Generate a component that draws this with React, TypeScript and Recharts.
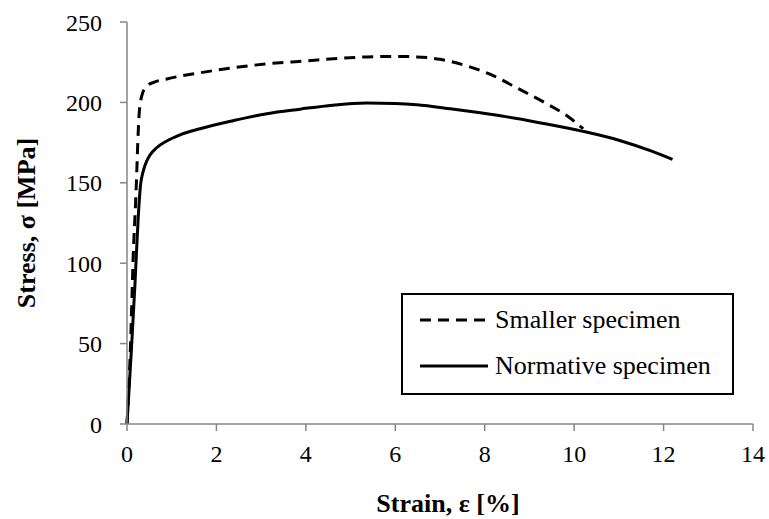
import React from 'react';
import { LineChart, Line, XAxis, YAxis } from 'recharts';

// strain [%] and stress [MPa]
const smallerStrain = [0, 0.08, 0.14, 0.2, 0.22, 0.24, 0.27, 0.3, 0.34, 0.44, 0.6, 0.89, 1.63, 2.37, 3.13, 4.0, 4.7, 5.36, 6.0, 6.48, 7.0, 7.6, 8.2, 8.72, 9.46, 9.84, 10.2];
const smallerStress = [0, 50, 105, 143, 158, 174, 192, 200, 205, 210, 212.5, 214.6, 218.4, 221.5, 224, 225.8, 227.3, 228.3, 228.6, 228.3, 226.8, 222.7, 216.5, 209, 198, 191.7, 183.6];

const normativeStrain = [0, 0.1, 0.18, 0.25, 0.3, 0.36, 0.44, 0.52, 0.65, 0.89, 1.2, 1.63, 2.37, 3.13, 3.87, 4.6, 5.36, 6.0, 6.48, 7.23, 7.9, 8.5, 9.2, 10.2, 11.0, 11.75, 12.2];
const normativeStress = [0, 47, 88, 128, 148, 157, 163.5, 167.5, 171.5, 176, 180, 183.6, 188.6, 193, 195.8, 198.3, 199.6, 199.3, 198.5, 196, 193.5, 191, 187.5, 182, 176.5, 169.5, 164.5];

const seriesNames = ['Smaller specimen', 'Normative specimen'];
const xTicks = [0, 2, 4, 6, 8, 10, 12, 14];
const yTicks = [0, 50, 100, 150, 200, 250];

const smallerData = smallerStrain.map((x, i) => ({ x, y: smallerStress[i] }));
const normativeData = normativeStrain.map((x, i) => ({ x, y: normativeStress[i] }));

const font = '"Liberation Serif", serif';
const axisColor = '#868686';

// legend box drawn over the plot, like the Excel one
const LegendBox = () => (
  <div
    style={{
      position: 'absolute',
      left: 401,
      top: 293,
      boxSizing: 'border-box',
      width: 333,
      height: 102,
      border: '2px solid #000',
      background: '#fff',
      fontFamily: font,
      fontSize: 26,
      color: '#000',
    }}
  >
    {seriesNames.map((name, i) => (
      <div
        key={name}
        style={{ position: 'absolute', left: 17, top: i === 0 ? 10 : 56, display: 'flex', alignItems: 'center', height: 30 }}
      >
        <svg width={68} height={10} style={{ marginRight: 7 }}>
          <line
            x1={0}
            y1={5}
            x2={68}
            y2={5}
            stroke="#000"
            strokeWidth={3}
            strokeDasharray={i === 0 ? '11 7' : undefined}
          />
        </svg>
        <span style={{ lineHeight: '30px' }}>{name}</span>
      </div>
    ))}
  </div>
);

const YTitle = (props: any) => {
  const { x, y, height } = props.viewBox;
  const cx = x + 26;
  const cy = y + height / 2;
  return (
    <text
      x={cx}
      y={cy}
      transform={`rotate(-90, ${cx}, ${cy})`}
      textAnchor="middle"
      dominantBaseline="central"
      fontFamily={font}
      fontSize={26}
      fontWeight="bold"
      fill="#000"
    >
      Stress, σ [MPa]
    </text>
  );
};

const XTitle = (props: any) => {
  const { x, y, width } = props.viewBox;
  return (
    <text
      x={x + width / 2 + 8}
      y={y + 79}
      textAnchor="middle"
      dominantBaseline="central"
      fontFamily={font}
      fontSize={26}
      fontWeight="bold"
      fill="#000"
    >
      Strain, ε [%]
    </text>
  );
};

export default function App() {
  return (
    <div style={{ position: 'absolute', left: 0, top: 0, width: 769, height: 519, background: '#fff' }}>
      <LineChart width={769} height={519} margin={{ top: 22, right: 16, bottom: 0, left: 0 }}>
        <XAxis
          type="number"
          dataKey="x"
          domain={[0, 14]}
          ticks={xTicks}
          interval={0}
          height={95}
          stroke={axisColor}
          strokeWidth={1.5}
          tickSize={7}
          tickMargin={14}
          tick={{ fill: '#000', fontFamily: font, fontSize: 24 }}
          label={<XTitle />}
        />
        <YAxis
          type="number"
          dataKey="y"
          domain={[0, 250]}
          ticks={yTicks}
          interval={0}
          width={127}
          stroke={axisColor}
          strokeWidth={1.5}
          tickSize={7}
          tickMargin={18}
          tick={{ fill: '#000', fontFamily: font, fontSize: 24 }}
          label={<YTitle />}
        />
        <Line
          data={smallerData}
          dataKey="y"
          name={seriesNames[0]}
          type="monotone"
          stroke="#000"
          strokeWidth={3}
          strokeDasharray="11 7"
          dot={false}
          isAnimationActive={false}
        />
        <Line
          data={normativeData}
          dataKey="y"
          name={seriesNames[1]}
          type="monotone"
          stroke="#000"
          strokeWidth={3}
          dot={false}
          isAnimationActive={false}
        />
      </LineChart>
      <LegendBox />
    </div>
  );
}
